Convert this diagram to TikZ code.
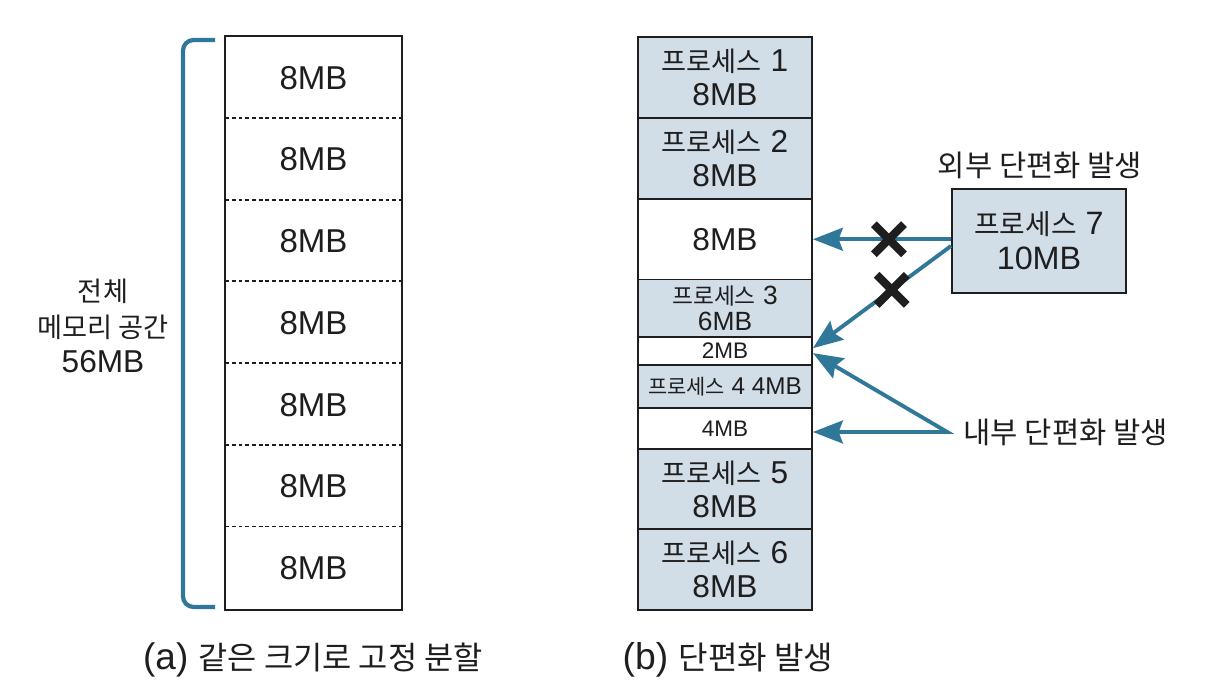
\documentclass[tikz,border=0pt]{standalone}
\usepackage{fontspec}
\setmainfont{Liberation Sans}
\newfontfamily\krfont[Scale=0.86]{Noto Sans CJK KR}
\newcommand{\ko}[1]{{\krfont #1}}
\usetikzlibrary{positioning,arrows.meta,shapes.misc}
\definecolor{fragblue}{RGB}{47,120,153}
\definecolor{procfill}{RGB}{209,221,231}
\definecolor{inkgray}{RGB}{30,30,30}

\begin{document}
\begin{tikzpicture}[x=0.01cm, y=-0.01cm, inkgray,
  big/.style={font=\fontsize{9}{9.7}\selectfont},
  small/.style={font=\fontsize{6.4}{7.1}\selectfont},
  note/.style={font=\fontsize{9.8}{11}\selectfont},
  slot/.style={font=\fontsize{9.4}{10}\selectfont, minimum width=1.75cm, minimum height=0.817cm, inner sep=0pt},
  cell/.style={draw=inkgray, line width=0.5pt, minimum width=1.74cm, inner sep=0pt, align=center},
  proc/.style={cell, fill=procfill},
  arr/.style={draw=fragblue, line width=1.1pt, -{Stealth[length=8.5pt,width=6.5pt,inset=1.2pt]}},
  nox/.style={cross out, draw=inkgray, line width=2.3pt, minimum size=0.22cm, inner sep=0pt}]
\useasboundingbox (0,0) rectangle (1210,698);

%(a) fixed partitions
\foreach \i in {0,...,6}
  \node[slot] (s\i) at (313.5,{77.85+81.7*\i}) {8MB};
\draw[line width=0.5pt] (s0.north west) rectangle (s6.south east);
\foreach \i in {1,...,6}
  \draw[line width=0.5pt, dash pattern=on 1.1pt off 0.8pt] (s\i.north west) -- (s\i.north east);

%brace
\draw[fragblue, line width=1.2pt, rounded corners=3pt] (215,40) -- (183,40) -- (183,607) -- (215,607);
\node[align=center, font=\fontsize{9}{10.2}\selectfont] (total) at (103,326) {\ko{전체}\\\ko{메모리 공간}\\56MB};
\node[font=\fontsize{10.5}{12}\selectfont] (capa) at (313,660) {(a) \ko{같은 크기로 고정 분할}};

%(b) fragmentation
\node[proc, big, minimum height=0.81cm] (p1) at (725,77.5) {\ko{프로세스} 1\\8MB};
\node[proc, big, minimum height=0.81cm] (p2) at (725,158.5) {\ko{프로세스} 2\\8MB};
\node[cell, big, minimum height=0.805cm] (h8) at (725,239.25) {8MB};
\node[proc, font=\fontsize{7.5}{7.3}\selectfont, minimum height=0.575cm] (p3) at (725,308.25) {\ko{프로세스} 3\\6MB};
\node[cell, small, minimum height=0.28cm] (h2) at (725,351) {2MB};
\node[proc, font=\fontsize{6.9}{7.5}\selectfont, minimum height=0.43cm] (p4) at (725,386.5) {\ko{프로세스} 4 4MB};
\node[cell, small, minimum height=0.41cm] (h4) at (725,428.5) {4MB};
\node[proc, big, minimum height=0.80cm] (p5) at (725,489) {\ko{프로세스} 5\\8MB};
\node[proc, big, minimum height=0.81cm] (p6) at (725,569.5) {\ko{프로세스} 6\\8MB};
\node[font=\fontsize{10.6}{12}\selectfont] (capb) at (728,660) {(b) \ko{단편화 발생}};

%external fragmentation
\node[proc, minimum height=1.04cm, font=\fontsize{9.2}{10}\selectfont] (p7) at (1039,241) {\ko{프로세스} 7\\10MB};
\node[note] (ext) at (1040,165) {\ko{외부 단편화 발생}};
\coordinate (p7lo) at ([yshift=-1.4pt]p7.west);
\coordinate (h2hi) at ([yshift=0.8pt]h2.east);
\draw[arr] (h8.east -| p7.west) -- (h8.east);
\draw[arr] (p7lo) -- (h2hi);
\path (h8.east -| p7.west) -- (h8.east) node[nox, pos=0.45] (x1) {};
\path (p7lo) -- (h2hi) node[nox, pos=0.43] (x2) {};

%internal fragmentation
\node[note, anchor=west, inner sep=0pt] (intl) at (963,432) {\ko{내부 단편화 발생}};
\coordinate (fork) at ([xshift=-4.5pt]intl.west);
\draw[fragblue, line width=1.1pt, {Stealth[length=8.5pt,width=6.5pt,inset=1.2pt]}-{Stealth[length=8.5pt,width=6.5pt,inset=1.2pt]}]
  ([yshift=-0.6pt]h2.east) -- (fork) -- (fork -| h4.east);
\end{tikzpicture}
\end{document}
